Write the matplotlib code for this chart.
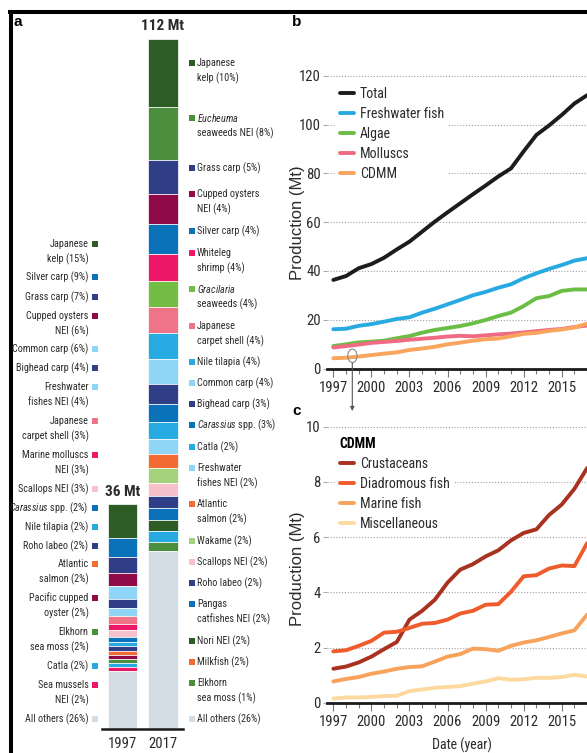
import numpy as np
import matplotlib
matplotlib.use("Agg")
import matplotlib.pyplot as plt
from matplotlib import font_manager as fm
from matplotlib.patches import Rectangle, Ellipse, FancyArrowPatch
from matplotlib.lines import Line2D
from matplotlib.ticker import MultipleLocator

# ---------------- data ----------------
years = list(range(1997, 2018))

# (a) species composition of aquaculture production, Mt
species_1997 = ["Japanese\nkelp", "Silver carp", "Grass carp", "Cupped oysters\nNEI",
                "Common carp", "Bighead carp", "Freshwater\nfishes NEI",
                "Japanese\ncarpet shell", "Marine molluscs\nNEI", "Scallops NEI",
                r"$\mathit{Carassius}$ spp.", "Nile tilapia", "Roho labeo",
                "Atlantic\nsalmon", "Pacific cupped\noyster", "Elkhorn\nsea moss",
                "Catla", "Sea mussels\nNEI", "All others"]
mt_1997 = [5.4, 3.2, 2.5, 2.2, 2.1, 1.4, 1.35, 1.2, 1.1, 1.0, 0.8, 0.75, 0.75,
           0.7, 0.7, 0.65, 0.65, 0.6, 9.4]

species_2017 = ["Japanese\nkelp", r"$\mathit{Eucheuma}$" + "\nseaweeds NEI", "Grass carp",
                "Cupped oysters\nNEI", "Silver carp", "Whiteleg\nshrimp",
                r"$\mathit{Gracilaria}$" + "\nseaweeds", "Japanese\ncarpet shell",
                "Nile tilapia", "Common carp", "Bighead carp", r"$\mathit{Carassius}$ spp.",
                "Catla", "Freshwater\nfishes NEI", "Atlantic\nsalmon", "Wakame",
                "Scallops NEI", "Roho labeo", "Pangas\ncatfishes NEI", "Nori NEI",
                "Milkfish", "Elkhorn\nsea moss", "All others"]
mt_2017 = [11.1, 8.65, 5.5, 4.9, 4.76, 4.4, 4.3, 4.2, 4.2, 4.1, 3.25, 2.9, 2.7,
           2.4, 2.3, 2.4, 2.1, 2.1, 1.8, 1.8, 1.8, 1.5, 28.9]

# (b) production by group, Mt
total = [36.3, 37.9, 41.1, 42.8, 45.4, 48.8, 52.0, 56.1, 60.2, 64.0, 67.7,
         71.4, 75.0, 78.7, 82.0, 89.0, 95.7, 99.6, 103.9, 108.6, 112.0]
freshwater_fish = [16.1, 16.3, 17.5, 18.2, 19.2, 20.3, 21.0, 22.9, 24.5, 26.3, 28.1,
                   30.0, 31.4, 33.1, 34.5, 37.0, 39.0, 40.8, 42.4, 44.2, 45.2]
algae = [9.2, 9.9, 10.7, 11.0, 11.4, 12.4, 13.3, 14.7, 15.8, 16.6, 17.4,
         18.5, 19.9, 21.5, 22.9, 25.6, 28.8, 29.7, 31.8, 32.4, 32.4]
molluscs = [8.6, 9.2, 9.8, 10.5, 10.9, 11.3, 11.8, 12.2, 12.6, 13.1, 13.4,
            13.2, 13.6, 14.0, 14.3, 14.8, 15.3, 15.8, 16.2, 17.0, 17.6]
cdmm = [4.2, 4.4, 4.9, 5.5, 6.1, 6.6, 7.6, 8.2, 8.9, 9.9, 10.6,
        11.4, 12.0, 12.3, 13.2, 14.2, 14.6, 15.4, 16.0, 16.8, 18.4]

# (c) CDMM breakdown, Mt
crustaceans = [1.23, 1.31, 1.46, 1.67, 1.94, 2.20, 3.01, 3.33, 3.73, 4.35, 4.82,
               5.02, 5.30, 5.52, 5.88, 6.15, 6.28, 6.80, 7.18, 7.75, 8.50]
diadromous_fish = [1.86, 1.90, 2.06, 2.24, 2.54, 2.57, 2.71, 2.86, 2.89, 3.01, 3.23,
                   3.33, 3.55, 3.57, 4.02, 4.58, 4.62, 4.86, 4.97, 4.95, 5.78]
marine_fish = [0.77, 0.86, 0.93, 1.05, 1.13, 1.23, 1.29, 1.32, 1.49, 1.67, 1.76,
               1.96, 1.94, 1.88, 2.06, 2.18, 2.26, 2.38, 2.51, 2.62, 3.19]
miscellaneous = [0.15, 0.19, 0.19, 0.21, 0.24, 0.25, 0.42, 0.48, 0.54, 0.57, 0.60,
                 0.69, 0.77, 0.89, 0.83, 0.85, 0.90, 0.90, 0.93, 1.01, 0.95]

# ---------------- styles ----------------
DKGREEN, GREEN, NAVY, MAROON = "#2e5c25", "#4b8f3e", "#2f3e87", "#8f0a47"
BLUE, MAGENTA, LTGREEN, PINK = "#0a72b9", "#ec1766", "#74bd45", "#f07488"
SKY, LTSKY, ORANGE, PALEGREEN = "#27a9e1", "#8fd6f6", "#f26b32", "#a4d27c"
LTPINK, GREY = "#f7c1cb", "#d4dce4"

bar_colors_1997 = [DKGREEN, BLUE, NAVY, MAROON, LTSKY, NAVY, LTSKY, PINK, MAGENTA,
                   LTPINK, BLUE, SKY, NAVY, ORANGE, MAROON, GREEN, SKY, MAGENTA, GREY]
bar_colors_2017 = [DKGREEN, GREEN, NAVY, MAROON, BLUE, MAGENTA, LTGREEN, PINK, SKY,
                   LTSKY, NAVY, BLUE, SKY, LTSKY, ORANGE, PALEGREEN, LTPINK, NAVY,
                   BLUE, DKGREEN, SKY, GREEN, GREY]
key_colors_2017 = bar_colors_2017[:20] + [ORANGE] + bar_colors_2017[21:]

# first-line vertical positions of the species captions (pixels from top)
label_y_1997 = [244, 277, 297, 316, 349, 368, 387, 421, 455, 489, 508, 527, 546,
                564, 598, 632, 666, 685, 719]
label_y_2017 = [63, 118, 168, 194, 231, 253, 289, 326, 362, 383, 404, 425, 447,
                468, 504, 541, 562, 583, 604, 641, 662, 683, 719]


def has_font(name):
    try:
        fm.findfont(fm.FontProperties(family=name), fallback_to_default=False)
        return True
    except Exception:
        return False


NARROW = next((f for f in ["Liberation Sans Narrow", "Arial Narrow", "Roboto Condensed"]
               if has_font(f)), "Liberation Sans")
REGULAR = "Liberation Sans" if has_font("Liberation Sans") else "DejaVu Sans"

plt.rcParams["font.family"] = [NARROW, "DejaVu Sans"]
plt.rcParams["mathtext.fontset"] = "custom"
plt.rcParams["mathtext.rm"] = NARROW
plt.rcParams["mathtext.it"] = NARROW + ":italic"

TXT = "#2b2b2b"
W, H = 587, 753
fig = plt.figure(figsize=(W / 100, H / 100), dpi=100)


def fx(x):
    return x / W


def fy(y):
    return 1 - y / H


def rect(left, top, right, bottom):
    return [left / W, 1 - bottom / H, (right - left) / W, (bottom - top) / H]


# outer frame
fig.add_artist(Line2D([fx(8), 1.0], [fy(12), fy(12)], transform=fig.transFigure,
                      color="black", lw=2.9, solid_capstyle="butt"))
fig.add_artist(Line2D([fx(10.5), fx(10.5)], [fy(10), 0.0], transform=fig.transFigure,
                      color="black", lw=2.9, solid_capstyle="butt"))

# ---------------- panel a ----------------
PX_PER_MT = 6.16
BASE = 729
ax_a = fig.add_axes(rect(102, BASE - 115 * PX_PER_MT, 183, BASE))
ax_a.set_xlim(-0.506, 1.494)
ax_a.set_ylim(0, 115)
for i, (vals, cols) in enumerate(((mt_1997, bar_colors_1997), (mt_2017, bar_colors_2017))):
    vals = np.asarray(vals)
    tot = vals.sum()
    bottoms = tot - np.cumsum(vals)
    ax_a.bar(np.full(len(vals), i), vals, bottom=bottoms, width=0.73, color=cols,
             edgecolor="white", linewidth=0.5)
    ax_a.annotate(f"{tot:.0f} Mt", (i, tot), xytext=(0, 4), textcoords="offset points",
                  ha="center", va="bottom", fontsize=11, fontweight="bold", color=TXT)
for s in ("left", "right", "top"):
    ax_a.spines[s].set_visible(False)
ax_a.spines["bottom"].set_linewidth(1.8)
ax_a.spines["bottom"].set_color("#1a1a1a")
ax_a.set_yticks([])
ax_a.set_xticks([0, 1])
ax_a.set_xticklabels(["1997", "2017"])
ax_a.tick_params(axis="x", length=0, pad=6, labelsize=10.6, labelcolor=TXT)


def draw_keys(names, vals, ys, colors, x_text, x_key, ha):
    tot = float(np.sum(vals))
    for name, v, y0, c in zip(names, vals, ys, colors):
        lines = name.split("\n")
        lines[-1] += f" ({round(100 * v / tot)}%)"
        for j, line in enumerate(lines):
            fig.text(fx(x_text), fy(y0 + j * 15.5), line, ha=ha, va="center",
                     fontsize=7.3, color=TXT)
        fig.add_artist(Rectangle((fx(x_key - 3), fy(y0 + 3)), 6 / W, 6 / H,
                                 transform=fig.transFigure, facecolor=c, edgecolor="none"))


draw_keys(species_1997, mt_1997, label_y_1997, bar_colors_1997, 88.5, 94.5, "right")
draw_keys(species_2017, mt_2017, label_y_2017, key_colors_2017, 197, 191.5, "left")


# ---------------- panels b and c ----------------
def style_time_axes(ax, yticks):
    ax.set_xlim(1996.5, 2017.78)
    ax.set_yticks(yticks)
    ax.set_xticks(range(1997, 2018, 3))
    ax.xaxis.set_minor_locator(MultipleLocator(1))
    for s in ("left", "right", "top"):
        ax.spines[s].set_visible(False)
    ax.spines["bottom"].set_linewidth(2.0)
    ax.spines["bottom"].set_color("#1a1a1a")
    ax.yaxis.grid(True, color="#a0a0a0", linestyle=(0, (1, 1.6)), linewidth=0.8)
    ax.set_axisbelow(True)
    ax.tick_params(axis="x", which="major", length=6, width=0.8, color="#777777",
                   pad=3, labelsize=10.6, labelcolor=TXT)
    ax.tick_params(axis="x", which="minor", length=3.5, width=0.8, color="#777777")
    ax.tick_params(axis="y", length=3, width=0.8, color="#aaaaaa", pad=1.5,
                   labelsize=10.6, labelcolor=TXT)
    ax.set_ylabel("Production (Mt)", fontsize=12, family=REGULAR, color=TXT)


LEG_KW = dict(loc="upper left", bbox_transform=fig.transFigure, borderaxespad=0,
              borderpad=0.3, frameon=True, fancybox=False, facecolor="white",
              edgecolor="none", framealpha=1, fontsize=10, handlelength=1.0,
              handletextpad=0.45, labelspacing=0.42, labelcolor=TXT)

# panel b
ax_b = fig.add_axes(rect(327, 368.5 - 122 * 2.44, 597, 368.5))
ax_b.set_ylim(0, 122)
style_time_axes(ax_b, [0, 20, 40, 60, 80, 100, 120])
ax_b.yaxis.set_label_coords(-0.082, 0.49)
for series, col, name in ((total, "#1c1c1c", "Total"),
                          (freshwater_fish, "#27aae1", "Freshwater fish"),
                          (algae, "#6abd45", "Algae"),
                          (molluscs, "#ef6a83", "Molluscs"),
                          (cdmm, "#f9a55e", "CDMM")):
    ax_b.plot(years, series, color=col, lw=2.8, solid_capstyle="round",
              solid_joinstyle="round", label=name)
ax_b.legend(bbox_to_anchor=(fx(335.5), fy(83)), **LEG_KW)
ax_b.add_patch(Ellipse((1998.5, 5.2), width=0.73, height=5.5, fill=False,
                       edgecolor="#8a8a8a", lw=0.8, zorder=6, clip_on=False))

# panel c
ax_c = fig.add_axes(rect(327, 702.7 - 10.3 * 27.6, 597, 702.7))
ax_c.set_ylim(0, 10.3)
style_time_axes(ax_c, [0, 2, 4, 6, 8, 10])
ax_c.yaxis.set_label_coords(-0.082, 0.47)
ax_c.set_xlabel("Date (year)", fontsize=10, color=TXT, labelpad=6)
for series, col, name in ((crustaceans, "#a8321f", "Crustaceans"),
                          (diadromous_fish, "#ef5b2a", "Diadromous fish"),
                          (marine_fish, "#f7a35c", "Marine fish"),
                          (miscellaneous, "#fdd9a0", "Miscellaneous")):
    ax_c.plot(years, series, color=col, lw=2.8, solid_capstyle="round",
              solid_joinstyle="round", label=name)
ax_c.legend(bbox_to_anchor=(fx(335.5), fy(433)), title="CDMM",
            title_fontproperties={"weight": "bold", "size": 10},
            alignment="left", **LEG_KW)

# pointer from the CDMM series in b down to panel c
fig.add_artist(FancyArrowPatch(posA=(fx(352.3), fy(363)), posB=(fx(352.3), fy(411)),
                               transform=fig.transFigure, arrowstyle="-|>",
                               mutation_scale=6, color="#555555", lw=0.8,
                               shrinkA=0, shrinkB=0))

# panel letters
for letter, x, y in (("a", 14, 22), ("b", 292, 22), ("c", 292, 411)):
    fig.text(fx(x), fy(y), letter, fontsize=11, fontweight="bold", family=REGULAR,
             ha="left", va="center", color="black")

fig.savefig("out.png", dpi=100)
